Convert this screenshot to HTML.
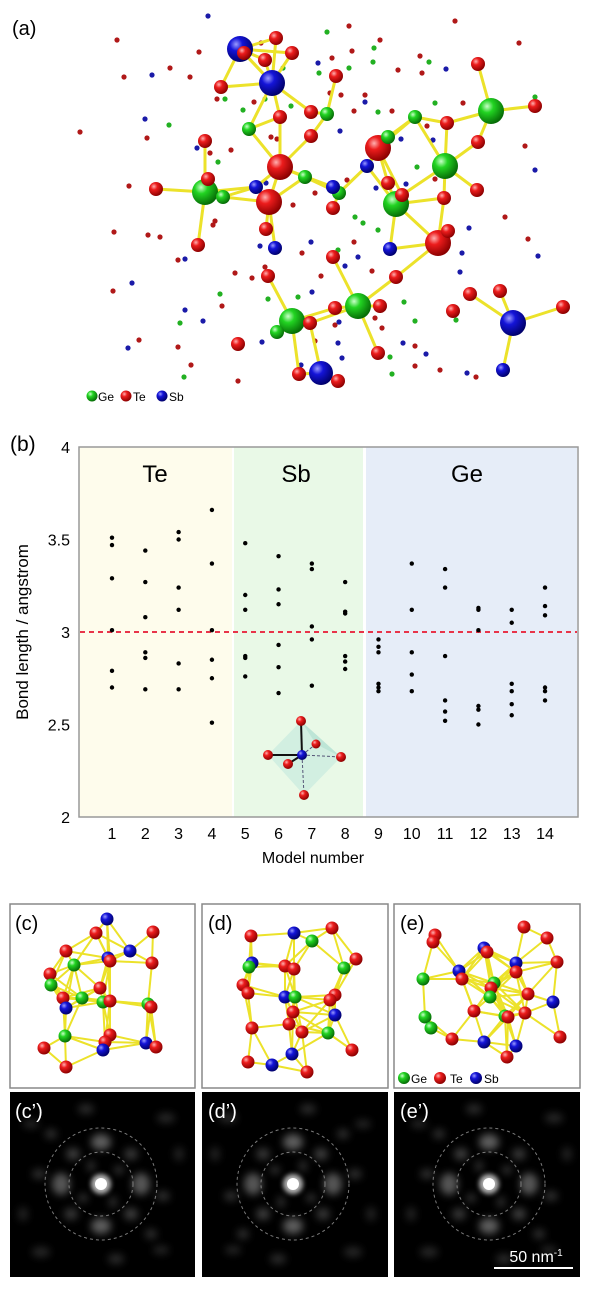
<!DOCTYPE html>
<html><head><meta charset="utf-8">
<style>
html,body{margin:0;padding:0;background:#fff;}
svg{display:block;font-family:"Liberation Sans",Arial,sans-serif;}
</style></head>
<body>
<svg id="fig" width="600" height="1294" viewBox="0 0 600 1294">
<defs>
<radialGradient id="gR" cx="35%" cy="32%" r="70%"><stop offset="0" stop-color="#ffb0b0"/><stop offset="0.35" stop-color="#ec1c1c"/><stop offset="1" stop-color="#8a0000"/></radialGradient>
<radialGradient id="gG" cx="35%" cy="32%" r="70%"><stop offset="0" stop-color="#c8ffc8"/><stop offset="0.35" stop-color="#22d422"/><stop offset="1" stop-color="#066a06"/></radialGradient>
<radialGradient id="gB" cx="35%" cy="32%" r="70%"><stop offset="0" stop-color="#9a9aff"/><stop offset="0.35" stop-color="#1414d8"/><stop offset="1" stop-color="#00006a"/></radialGradient>
<filter id="blur4" x="-50%" y="-50%" width="200%" height="200%"><feGaussianBlur stdDeviation="4"/></filter>
<filter id="blur2" x="-100%" y="-100%" width="300%" height="300%"><feGaussianBlur stdDeviation="2.5"/></filter>
<clipPath id="clipC"><rect x="10" y="1092" width="185" height="185"/></clipPath>
<clipPath id="clipD"><rect x="202" y="1092" width="186" height="185"/></clipPath>
<clipPath id="clipE"><rect x="394" y="1092" width="186" height="185"/></clipPath>
</defs>

<!-- Panel a -->
<text x="12" y="35" font-size="20">(a)</text>
<g id="panelA"></g>
<g>
<circle cx="92" cy="396" r="5.5" fill="url(#gG)"/><text x="98" y="401" font-size="12">Ge</text>
<circle cx="126" cy="396" r="5.5" fill="url(#gR)"/><text x="133" y="401" font-size="12">Te</text>
<circle cx="162" cy="396" r="5.5" fill="url(#gB)"/><text x="169" y="401" font-size="12">Sb</text>
</g>

<!-- Panel b chart -->
<text x="10" y="451" font-size="21">(b)</text>
<g id="chart">
<rect x="79" y="447" width="153" height="370" fill="#fefcec"/>
<rect x="234" y="447" width="129" height="370" fill="#e9f9e7"/>
<rect x="366" y="447" width="211" height="370" fill="#e6edf8"/>
<text x="155" y="482" font-size="24" text-anchor="middle">Te</text>
<text x="296" y="482" font-size="24" text-anchor="middle">Sb</text>
<text x="467" y="482" font-size="24" text-anchor="middle">Ge</text>
<g>
<polygon points="301,721 341,757 304,795 268,755" fill="#bfe8dc" opacity="0.55"/>
<polygon points="301,721 316,744 341,757" fill="#a8dccc" opacity="0.5"/>
<line x1="302" y1="755" x2="316" y2="744" stroke="#557" stroke-width="1" stroke-dasharray="3 2"/>
<line x1="302" y1="755" x2="341" y2="757" stroke="#557" stroke-width="1" stroke-dasharray="3 2"/>
<line x1="302" y1="755" x2="304" y2="795" stroke="#557" stroke-width="1" stroke-dasharray="3 2"/>
<line x1="302" y1="755" x2="301" y2="721" stroke="#111" stroke-width="2"/>
<line x1="302" y1="755" x2="268" y2="755" stroke="#111" stroke-width="2"/>
<line x1="302" y1="755" x2="288" y2="764" stroke="#111" stroke-width="2"/>
<circle cx="301" cy="721" r="5" fill="url(#gR)"/><circle cx="316" cy="744" r="4.5" fill="url(#gR)"/>
<circle cx="268" cy="755" r="5" fill="url(#gR)"/><circle cx="341" cy="757" r="5" fill="url(#gR)"/>
<circle cx="288" cy="764" r="5" fill="url(#gR)"/><circle cx="304" cy="795" r="5" fill="url(#gR)"/>
<circle cx="302" cy="755" r="5" fill="url(#gB)"/>
</g>
<g id="marks"></g>
<rect x="79" y="447" width="499" height="370" fill="none" stroke="#999" stroke-width="1.5"/>
<g id="axes"></g>
<text transform="translate(28,632) rotate(-90)" font-size="17" text-anchor="middle">Bond length / angstrom</text>
<text x="313" y="863" font-size="16" text-anchor="middle">Model number</text>
</g>

<!-- panels c d e -->
<rect x="10" y="904" width="185" height="184" fill="#fff" stroke="#888" stroke-width="1.5"/>
<rect x="202" y="904" width="186" height="184" fill="#fff" stroke="#888" stroke-width="1.5"/>
<rect x="394" y="904" width="186" height="184" fill="#fff" stroke="#888" stroke-width="1.5"/>
<g id="panelC"></g>
<g id="panelD"></g>
<g id="panelE"></g>
<text x="15" y="930" font-size="20">(c)</text>
<text x="208" y="930" font-size="20">(d)</text>
<text x="400" y="930" font-size="20">(e)</text>
<g>
<circle cx="404" cy="1078" r="6" fill="url(#gG)"/><text x="411" y="1083" font-size="12">Ge</text>
<circle cx="440" cy="1078" r="6" fill="url(#gR)"/><text x="450" y="1083" font-size="12">Te</text>
<circle cx="476" cy="1078" r="6" fill="url(#gB)"/><text x="484" y="1083" font-size="12">Sb</text>
</g>

<rect x="10" y="1092" width="185" height="185" fill="#000"/>
<rect x="202" y="1092" width="186" height="185" fill="#000"/>
<rect x="394" y="1092" width="186" height="185" fill="#000"/>
<g id="fftC" clip-path="url(#clipC)"></g>
<g id="fftD" clip-path="url(#clipD)"></g>
<g id="fftE" clip-path="url(#clipE)"></g>
<text x="15" y="1118" font-size="20" fill="#fff">(c’)</text>
<text x="208" y="1118" font-size="20" fill="#fff">(d’)</text>
<text x="400" y="1118" font-size="20" fill="#fff">(e’)</text>
<text x="536" y="1262" font-size="16" fill="#fff" text-anchor="middle">50 nm<tspan dy="-6" font-size="10">-1</tspan></text>
<line x1="494" y1="1268" x2="573" y2="1268" stroke="#fff" stroke-width="2"/>
</svg>

<script>
// ---- chart data ----
const models = [1,2,3,4,5,6,7,8,9,10,11,12,13,14];
const bondLengths = [
 [3.51,3.47,3.29,3.01,2.79,2.70],
 [3.44,3.27,3.08,2.89,2.86,2.69],
 [3.54,3.50,3.24,3.12,2.83,2.69],
 [3.66,3.37,3.01,2.85,2.75,2.51],
 [3.48,3.20,3.12,2.87,2.86,2.76],
 [3.41,3.23,3.15,2.93,2.81,2.67],
 [3.37,3.34,3.03,2.96,2.71],
 [3.27,3.11,3.10,2.87,2.84,2.80],
 [2.96,2.92,2.89,2.72,2.70,2.68],
 [3.37,3.12,2.89,2.77,2.68],
 [3.34,3.24,2.87,2.63,2.57,2.52],
 [3.13,3.12,3.01,2.60,2.58,2.50],
 [3.12,3.05,2.72,2.68,2.61,2.55],
 [3.24,3.14,3.09,2.70,2.68,2.63]
];
const yTicks = [2,2.5,3,3.5,4];
const yTickLabels = ["2","2.5","3","3.5","4"];
const referenceLength = [3.0];

const NS = "http://www.w3.org/2000/svg";
function mk(tag, attrs, parent){const e=document.createElementNS(NS,tag);for(const k in attrs)e.setAttribute(k,attrs[k]);parent.appendChild(e);return e;}
function xScale(m){return 112 + (m-1)*33.31;}
function yScale(v){return 817 - (v-2)*185;}

const marks = document.getElementById('marks');
const axes = document.getElementById('axes');
referenceLength.forEach(v=>{
  const l = mk('line',{x1:80,x2:577,y1:yScale(v),y2:yScale(v),stroke:'#e8344a','stroke-width':2,'stroke-dasharray':'5 4'},marks);
  
  
});
models.forEach((m,i)=>{
  bondLengths[i].forEach(v=>{
    const c = mk('circle',{cx:xScale(m),cy:yScale(v),r:2.2,fill:'#000'},marks);
    
    
  });
  const t = mk('text',{x:xScale(m),y:839,'font-size':16,'text-anchor':'middle'},axes);
  t.textContent = String(m);
  
  
});
yTicks.forEach((v,i)=>{
  const t = mk('text',{x:70,y:yScale(v)+6,'font-size':16,'text-anchor':'end'},axes);
  t.textContent = yTickLabels[i];
  
  
});

// ---- molecule illustrations ----
const grad = {r:'url(#gR)',g:'url(#gG)',b:'url(#gB)'};
const dotCol = {r:'#b01818',g:'#22b022',b:'#1a1aa8'};
function drawMolecule(g, atoms, bondFn, bw){
  for(let i=0;i<atoms.length;i++)for(let j=i+1;j<atoms.length;j++){
    const a=atoms[i],b=atoms[j];
    const d=Math.hypot(a[0]-b[0],a[1]-b[1]);
    if(bondFn(a,b,d)){mk('line',{x1:a[0],y1:a[1],x2:b[0],y2:b[1],stroke:'#ece22a','stroke-width':bw,'stroke-linecap':'round'},g);}
  }
  atoms.forEach(a=>mk('circle',{cx:a[0],cy:a[1],r:a[3]||a[2],fill:grad[a[2]]},g));
}
// panel a small dots
const gA=document.getElementById('panelA');
const smallR=[[117,40],[199,52],[124,77],[170,68],[190,77],[80,132],[147,138],[231,150],[129,186],[114,232],[148,235],[160,237],[213,225],[178,260],[113,291],[222,306],[139,340],[178,347],[191,365],[238,381],[235,273],[252,278],[265,267],[321,276],[349,26],[380,40],[352,51],[332,58],[398,70],[422,73],[455,21],[519,43],[420,56],[463,103],[525,146],[505,217],[528,239],[372,271],[382,328],[415,346],[415,366],[440,370],[476,377],[330,93],[341,95],[365,95],[354,111],[392,111],[427,126],[435,179],[347,180],[315,193],[293,205],[354,242],[302,253],[210,153],[215,221],[217,99],[254,102],[261,43],[271,137],[277,139],[335,325],[315,341],[375,318]];
const smallB=[[208,16],[152,75],[145,119],[197,148],[318,63],[365,102],[340,131],[401,139],[446,69],[433,140],[535,170],[376,188],[406,184],[469,228],[462,253],[538,256],[460,272],[311,242],[358,257],[345,266],[260,246],[185,259],[132,283],[185,310],[203,321],[128,348],[262,342],[312,292],[339,322],[338,343],[342,358],[403,343],[426,354],[467,373],[301,365],[266,183]];
const smallG=[[327,32],[374,48],[373,62],[429,62],[349,68],[319,73],[283,68],[225,99],[243,110],[291,106],[265,99],[378,112],[435,103],[169,125],[218,162],[417,167],[355,217],[363,223],[378,230],[338,250],[220,294],[268,299],[298,297],[180,323],[184,377],[404,302],[415,321],[456,320],[390,357],[392,374],[535,97]];
smallR.forEach(p=>mk('circle',{cx:p[0],cy:p[1],r:2.6,fill:dotCol.r},gA));
smallB.forEach(p=>mk('circle',{cx:p[0],cy:p[1],r:2.6,fill:dotCol.b},gA));
smallG.forEach(p=>mk('circle',{cx:p[0],cy:p[1],r:2.6,fill:dotCol.g},gA));
const atomsA=[
 [240,49,'b',13],[272,83,'b',13],[280,167,'r',13],[269,202,'r',13],[378,148,'r',13],[438,243,'r',13],
 [205,192,'g',13],[445,166,'g',13],[491,111,'g',13],[396,204,'g',13],[358,306,'g',13],[292,321,'g',13],
 [513,323,'b',13],[321,373,'b',12],
 [276,38,'r',7],[292,53,'r',7],[265,60,'r',7],[244,53,'r',7],[221,87,'r',7],[336,76,'r',7],[280,117,'r',7],[311,112,'r',7],[311,136,'r',7],[205,141,'r',7],[208,179,'r',7],[156,189,'r',7],[198,245,'r',7],[266,229,'r',7],[333,208,'r',7],[388,183,'r',7],[402,195,'r',7],[444,198,'r',7],[477,190,'r',7],[447,123,'r',7],[478,142,'r',7],[478,64,'r',7],[535,106,'r',7],[448,231,'r',7],[396,277,'r',7],[470,294,'r',7],[500,291,'r',7],[453,311,'r',7],[563,307,'r',7],[333,257,'r',7],[268,276,'r',7],[380,306,'r',7],[335,308,'r',7],[310,323,'r',7],[238,344,'r',7],[378,353,'r',7],[299,374,'r',7],[338,381,'r',7],
 [249,129,'g',7],[327,114,'g',7],[415,117,'g',7],[305,177,'g',7],[388,137,'g',7],[223,197,'g',7],[339,193,'g',7],[277,332,'g',7],
 [256,187,'b',7],[333,187,'b',7],[367,166,'b',7],[275,248,'b',7],[390,249,'b',7],[503,370,'b',7]
];
drawMolecule(gA, atomsA, (a,b,d)=>{const big=Math.max(a[3],b[3]); if(big>=12) return d<58 && d>12; return d<40 && d>10 && (a[2]==='g'||b[2]==='g');}, 3);

const s=6.5;
const atomsC=[[107,919,'b',s],[153,932,'r',s],[96,933,'r',s],[130,951,'b',s],[66,951,'r',s],[74,965,'g',s],[108,958,'b',s],[110,961,'r',s],[152,963,'r',s],[50,974,'r',s],[51,985,'g',s],[100,988,'r',s],[63,998,'r',s],[82,998,'g',s],[103,1002,'g',s],[110,1001,'r',s],[66,1008,'b',s],[148,1004,'g',s],[151,1007,'r',s],[65,1036,'g',s],[110,1035,'r',s],[105,1042,'r',s],[103,1050,'b',s],[146,1043,'b',s],[156,1047,'r',s],[44,1048,'r',s],[66,1067,'r',s]];
const atomsD=[[251,936,'r',s],[294,933,'b',s],[332,928,'r',s],[312,941,'g',s],[356,959,'r',s],[252,963,'b',s],[249,967,'g',s],[285,966,'r',s],[294,969,'r',s],[344,968,'g',s],[243,985,'r',s],[248,993,'r',s],[285,997,'b',s],[295,997,'g',s],[335,995,'r',s],[330,1000,'r',s],[293,1012,'r',s],[335,1015,'b',s],[289,1024,'r',s],[252,1028,'r',s],[302,1032,'r',s],[328,1033,'g',s],[352,1050,'r',s],[292,1054,'b',s],[248,1062,'r',s],[272,1065,'b',s],[307,1072,'r',s]];
const atomsE=[[435,935,'r',s],[433,942,'r',s],[524,927,'r',s],[547,938,'r',s],[557,962,'r',s],[484,948,'b',s],[487,952,'r',s],[516,963,'b',s],[516,972,'r',s],[459,971,'b',s],[462,979,'r',s],[423,979,'g',s],[494,983,'g',s],[491,988,'r',s],[490,997,'g',s],[528,994,'r',s],[553,1002,'b',s],[474,1011,'r',s],[525,1013,'r',s],[505,1016,'g',s],[508,1017,'r',s],[425,1017,'g',s],[431,1028,'g',s],[452,1039,'r',s],[484,1042,'b',s],[516,1046,'b',s],[560,1037,'r',s],[507,1057,'r',s]];
const bf=(a,b,d)=>d>6 && d<44;
drawMolecule(document.getElementById('panelC'), atomsC, bf, 2);
drawMolecule(document.getElementById('panelD'), atomsD, bf, 2);
drawMolecule(document.getElementById('panelE'), atomsE, bf, 2);

// ---- diffraction panels ----
const blobs=[[0,-42,10,8,.6],[0,42,10,8,.6],[-40,0,9,11,.55],[40,0,9,11,.55],[-28,-30,7,6,.4],[30,30,7,6,.4],[30,-30,7,6,.35],[-30,30,7,6,.35],[-62,-10,7,5,.3],[62,12,7,5,.3],[-18,14,5,4,.35],[18,-14,5,4,.35],[-10,-18,4,6,.3],[12,18,4,6,.3],[-70,-60,8,4,.25],[65,-66,9,5,.25],[-60,68,9,5,.25],[60,66,8,4,.25],[-15,-75,8,5,.28],[15,75,8,5,.28],[-78,30,5,7,.22],[78,-30,5,7,.22],[-50,-50,6,5,.3],[50,50,6,5,.3]];
function fft(id,cx,cy,flip){
  const g=document.getElementById(id);
  const bg=mk('g',{filter:'url(#blur4)'},g);
  blobs.forEach(b=>mk('ellipse',{cx:cx+b[0]*flip,cy:cy+b[1],rx:b[2],ry:b[3],fill:'#9a9a9a',opacity:b[4]},bg));
  mk('circle',{cx:cx,cy:cy,r:56,fill:'none',stroke:'#999','stroke-width':1,'stroke-dasharray':'3 3',opacity:.8},g);
  mk('circle',{cx:cx,cy:cy,r:32,fill:'none',stroke:'#999','stroke-width':1,'stroke-dasharray':'3 3',opacity:.8},g);
  mk('circle',{cx:cx,cy:cy,r:10,fill:'#ddd',filter:'url(#blur2)',opacity:.8},g);
  mk('circle',{cx:cx,cy:cy,r:6,fill:'#fff'},g);
}
fft('fftC',101,1184,1);
fft('fftD',293,1184,-1);
fft('fftE',489,1184,1);
</script>
</body></html>
